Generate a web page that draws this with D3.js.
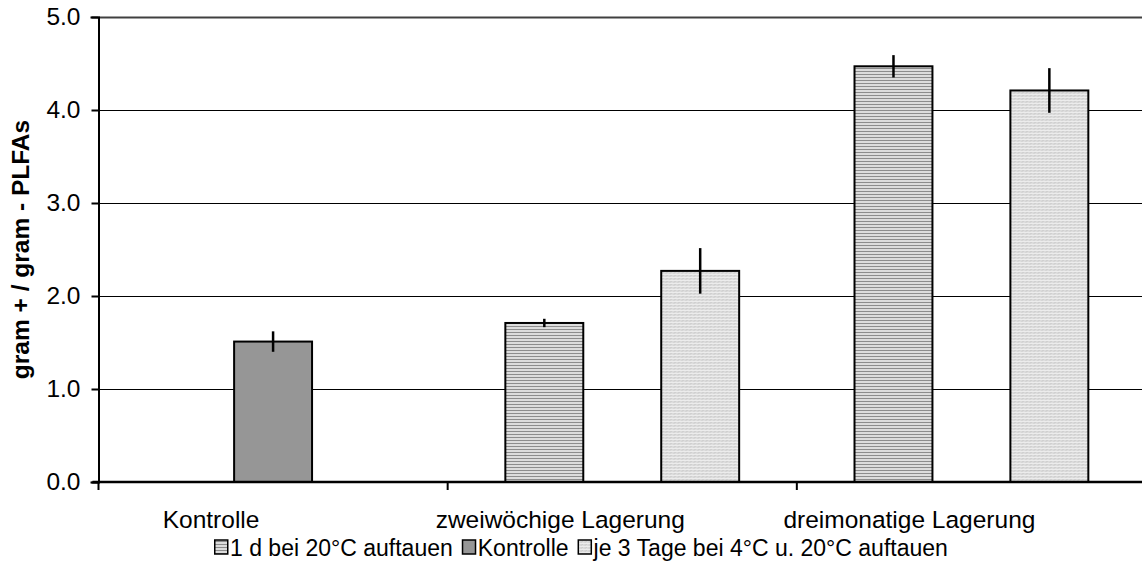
<!DOCTYPE html>
<html>
<head>
<meta charset="utf-8">
<script src="https://cdn.jsdelivr.net/npm/d3@7"></script>
<style>
  body { margin: 0; background: #fff; }
  text { font-family: "Liberation Sans", Arial, sans-serif; fill: #000; }
</style>
</head>
<body>
<div id="chart"></div>
<script>
// data
var groups = ["Kontrolle", "zweiwöchige Lagerung", "dreimonatige Lagerung"];
var seriesNames = ["1 d bei 20°C auftauen", "Kontrolle", "je 3 Tage bei 4°C u. 20°C auftauen"];
// one row per group, one value per series (null = no bar)
var means = [
  [null, 1.51, null],
  [1.71, null, 2.27],
  [4.47, null, 4.21]
];
var errors = [
  [null, 0.11, null],
  [0.045, null, 0.245],
  [0.12, null, 0.24]
];
var yTicks = [0, 1, 2, 3, 4, 5];

var svgWidth = 1142;
var svgHeight = 577;
var margin = { top: 17, right: -4, bottom: 95, left: 98.5 };
var width = svgWidth - margin.left - margin.right;
var height = svgHeight - margin.top - margin.bottom;
var fontSize = "24.5px";
var labelShift = -62; // category labels sit left of the group centre in the original

var svg = d3.select("#chart")
  .append("svg")
  .attr("width", svgWidth)
  .attr("height", svgHeight);

// fill patterns
var defs = svg.append("defs");
var p1 = defs.append("pattern").attr("id", "stripes")
  .attr("width", 4).attr("height", 3).attr("patternUnits", "userSpaceOnUse");
p1.append("rect").attr("width", 4).attr("height", 3).attr("fill", "#dcdcdc");
p1.append("rect").attr("width", 4).attr("height", 1).attr("fill", "#8c8c8c");

var p3 = defs.append("pattern").attr("id", "dots")
  .attr("width", 4).attr("height", 3).attr("patternUnits", "userSpaceOnUse");
p3.append("rect").attr("width", 4).attr("height", 3).attr("fill", "#ececec");
p3.append("rect").attr("x", 0).attr("y", 0).attr("width", 1).attr("height", 1).attr("fill", "#b4b4b4");
p3.append("rect").attr("x", 2).attr("y", 0).attr("width", 1).attr("height", 1).attr("fill", "#c8c8c8");
p3.append("rect").attr("x", 1).attr("y", 1).attr("width", 1).attr("height", 1).attr("fill", "#d0d0d0");
p3.append("rect").attr("x", 3).attr("y", 1).attr("width", 1).attr("height", 1).attr("fill", "#c0c0c0");

var fills = ["url(#stripes)", "#969696", "url(#dots)"];

var chart = svg.append("g")
  .attr("transform", `translate(${margin.left}, ${margin.top})`);

var x0 = d3.scaleBand().domain(groups).range([0, width]).padding(0);
var x1 = d3.scaleBand().domain(d3.range(seriesNames.length))
  .range([0, x0.bandwidth()]).paddingInner(0).paddingOuter(0.74);
var y = d3.scaleLinear().domain([0, 5]).range([height, 0]);

// gridlines
chart.append("g")
  .selectAll("line")
  .data(yTicks.filter(function(d) { return d > 0; }))
  .enter().append("line")
  .attr("x1", 0).attr("x2", width)
  .attr("y1", function(d) { return y(d) + 0.5; })
  .attr("y2", function(d) { return y(d) + 0.5; })
  .attr("stroke", function(d) { return d === 5 ? "#404040" : "#000"; })
  .attr("stroke-width", function(d) { return d === 5 ? 2 : 1; });

// bars
var rows = [];
means.forEach(function(row, gi) {
  row.forEach(function(v, si) {
    if (v !== null) rows.push({ g: groups[gi], s: si, v: v, e: errors[gi][si] });
  });
});

chart.append("g")
  .selectAll("rect")
  .data(rows)
  .enter().append("rect")
  .attr("x", function(d) { return x0(d.g) + x1(d.s); })
  .attr("y", function(d) { return y(d.v); })
  .attr("width", x1.bandwidth())
  .attr("height", function(d) { return height - y(d.v); })
  .attr("fill", function(d) { return fills[d.s]; })
  .attr("stroke", "#000")
  .attr("stroke-width", 2);

// error bars (no caps)
chart.append("g")
  .selectAll("line")
  .data(rows)
  .enter().append("line")
  .attr("x1", function(d) { return x0(d.g) + x1(d.s) + x1.bandwidth() / 2; })
  .attr("x2", function(d) { return x0(d.g) + x1(d.s) + x1.bandwidth() / 2; })
  .attr("y1", function(d) { return y(d.v + d.e); })
  .attr("y2", function(d) { return y(d.v - d.e); })
  .attr("stroke", "#000")
  .attr("stroke-width", 2.5);

// y axis
var yAxis = d3.axisLeft(y).tickValues(yTicks).tickFormat(d3.format(".1f")).tickSizeOuter(0).tickSize(8);
var gy = chart.append("g").call(yAxis);
gy.select(".domain").attr("stroke-width", 2);
gy.selectAll(".tick line").attr("stroke-width", 2).attr("x2", 0).attr("x1", -7);
gy.selectAll(".tick text").attr("x", -18).style("font-size", fontSize)
  .style("font-family", "Liberation Sans, Arial, sans-serif");

// x axis: ticks on group boundaries
var gx = chart.append("g").attr("transform", `translate(0, ${height})`);
gx.append("line").attr("x1", -6).attr("x2", width).attr("stroke", "#000").attr("stroke-width", 2.5);
gx.selectAll(".bnd")
  .data(groups)
  .enter().append("line")
  .attr("class", "bnd")
  .attr("x1", function(d) { return x0(d); })
  .attr("x2", function(d) { return x0(d); })
  .attr("y1", 0).attr("y2", 8)
  .attr("stroke", "#000").attr("stroke-width", 2);
gx.selectAll(".lbl")
  .data(groups)
  .enter().append("text")
  .attr("class", "lbl")
  .attr("x", function(d) { return x0(d) + x0.bandwidth() / 2 + labelShift; })
  .attr("y", 46)
  .attr("text-anchor", "middle")
  .style("font-size", fontSize)
  .text(function(d) { return d; });

// y title
svg.append("text")
  .attr("transform", `translate(29, ${margin.top + height / 2}) rotate(-90)`)
  .attr("text-anchor", "middle")
  .style("font-size", fontSize)
  .style("font-weight", "bold")
  .text("gram + / gram - PLFAs");

// legend
var legend = svg.append("g").attr("transform", "translate(214, 556)");
var lx = 0;
seriesNames.forEach(function(name, i) {
  var item = legend.append("g").attr("transform", `translate(${lx}, 0)`);
  item.append("rect")
    .attr("x", 0.75).attr("y", -16).attr("width", 13).attr("height", 14)
    .attr("fill", fills[i]).attr("stroke", "#000").attr("stroke-width", 1.5);
  var t = item.append("text")
    .attr("x", 16).attr("y", 0)
    .style("font-size", "23px")
    .text(name);
  lx += 16 + t.node().getComputedTextLength() + 9;
});
</script>
</body>
</html>
